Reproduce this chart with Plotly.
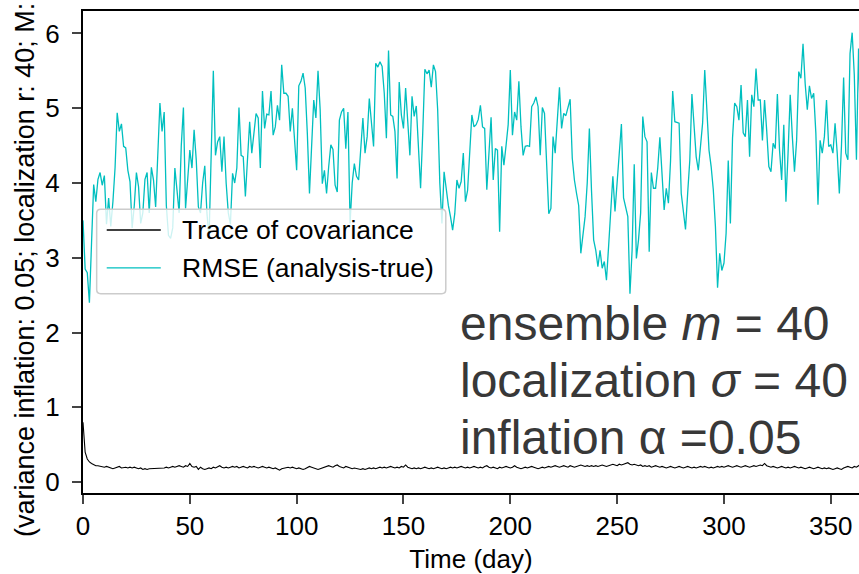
import plotly.graph_objects as go

# ---------------- data ----------------
rmse = [
    3.50, 2.85, 2.80, 2.40, 3.20, 3.98, 3.75, 4.05, 4.14, 3.97,
    4.10, 3.45, 3.80, 3.42, 3.75, 4.20, 4.94, 4.69, 4.79, 4.49,
    4.47, 4.17, 4.02, 3.40, 3.70, 4.14, 3.95, 3.46, 3.60, 4.05,
    4.14, 3.60, 4.21, 4.04, 3.68, 4.30, 5.07, 4.69, 4.95, 3.70,
    3.30, 3.26, 3.40, 4.20, 3.86, 3.60, 4.50, 5.01, 3.66, 4.00,
    4.44, 4.20, 4.71, 4.31, 3.68, 3.60, 4.00, 4.23, 3.60, 3.26,
    4.30, 5.50, 4.37, 4.55, 4.62, 4.15, 4.62, 4.00, 3.60, 3.45,
    4.13, 4.00, 4.20, 5.01, 4.37, 4.35, 3.82, 4.30, 4.82, 4.40,
    4.70, 4.93, 4.87, 4.20, 5.23, 4.73, 4.92, 4.91, 5.23, 4.64,
    4.75, 5.04, 4.84, 5.58, 5.20, 5.20, 5.16, 4.69, 5.00, 4.50,
    4.17, 5.30, 5.36, 5.47, 5.27, 4.66, 3.86, 4.49, 5.11, 4.87,
    5.50, 4.98, 3.99, 4.17, 3.86, 4.22, 4.51, 4.45, 3.97, 3.88,
    4.84, 4.95, 5.00, 4.46, 4.95, 3.46, 4.00, 4.26, 4.09, 4.04,
    4.40, 4.87, 4.40, 4.62, 5.13, 4.75, 4.49, 5.60, 5.55, 5.62,
    5.56, 5.20, 4.60, 5.77, 4.91, 4.89, 4.69, 4.06, 5.35, 4.91,
    4.73, 5.27, 4.80, 4.37, 5.16, 4.89, 5.03, 4.51, 3.93, 4.66,
    5.52, 5.46, 5.51, 5.28, 5.58, 5.49, 4.98, 4.00, 3.46, 4.15,
    3.90, 3.70, 3.55, 3.37, 3.59, 4.04, 3.93, 4.02, 4.40, 3.75,
    3.90, 4.40, 4.91, 4.75, 4.78, 4.85, 5.04, 4.75, 4.73, 3.91,
    4.40, 4.88, 4.04, 4.46, 4.44, 3.35, 4.49, 4.24, 4.50, 4.78,
    5.51, 4.64, 4.95, 4.84, 5.36, 4.75, 4.37, 4.49, 4.50, 4.49,
    5.02, 5.07, 5.15, 5.02, 4.37, 5.01, 4.93, 4.13, 3.59, 3.66,
    4.62, 4.40, 4.80, 5.28, 4.73, 4.93, 4.90, 5.03, 5.12, 4.33,
    4.04, 3.86, 3.70, 3.06, 3.30, 3.55, 4.00, 4.73, 3.90, 3.24,
    3.10, 2.88, 3.10, 2.86, 2.95, 2.70, 3.15, 3.57, 4.09, 3.62,
    4.00, 4.49, 4.79, 3.80, 3.66, 3.55, 2.52, 3.10, 4.25, 2.99,
    3.24, 3.60, 4.89, 4.62, 4.55, 3.08, 4.14, 3.93, 3.93, 4.20,
    4.61, 4.13, 3.64, 3.93, 3.73, 4.30, 5.23, 4.82, 4.81, 4.80,
    3.86, 3.60, 3.38, 3.86, 4.30, 5.19, 4.80, 4.35, 4.17, 4.50,
    4.80, 5.51, 4.98, 4.44, 4.22, 3.91, 3.42, 2.60, 3.06, 2.83,
    2.93, 3.33, 4.30, 3.46, 4.60, 5.07, 5.02, 4.84, 5.31, 4.67,
    4.62, 5.11, 4.35, 5.18, 5.02, 5.53, 5.11, 5.11, 4.57, 5.11,
    4.70, 4.22, 4.15, 4.53, 4.46, 5.19, 4.44, 4.04, 4.78, 3.75,
    4.40, 5.18, 4.62, 4.15, 4.57, 5.49, 5.40, 5.86, 5.33, 4.98,
    5.30, 5.13, 5.20, 4.67, 3.71, 4.57, 4.40, 4.62, 5.11, 4.49,
    4.51, 4.40, 4.80, 4.40, 3.86, 4.50, 5.41, 4.40, 4.31, 5.73,
    6.01, 5.44, 4.31, 5.80, 4.60,
]

trace_cov = [
    0.80, 0.40, 0.31, 0.27, 0.25, 0.23, 0.22, 0.22, 0.21, 0.21,
    0.20, 0.21, 0.20, 0.19, 0.18, 0.19, 0.20, 0.21, 0.19, 0.20,
    0.20, 0.19, 0.20, 0.19, 0.20, 0.19, 0.18, 0.19, 0.17, 0.18,
    0.17, 0.18, 0.18, 0.19, 0.18, 0.19, 0.18, 0.19, 0.19, 0.20,
    0.19, 0.20, 0.21, 0.20, 0.21, 0.22, 0.21, 0.20, 0.22, 0.21,
    0.25, 0.21, 0.20, 0.21, 0.17, 0.20, 0.18, 0.17, 0.18, 0.19,
    0.18, 0.20, 0.19, 0.20, 0.22, 0.20, 0.19, 0.20, 0.19, 0.20,
    0.21, 0.20, 0.21, 0.19, 0.20, 0.21, 0.20, 0.19, 0.21, 0.20,
    0.21, 0.20, 0.19, 0.20, 0.21, 0.20, 0.19, 0.20, 0.19, 0.18,
    0.19, 0.17, 0.16, 0.18, 0.19, 0.20, 0.20, 0.19, 0.20, 0.19,
    0.18, 0.19, 0.18, 0.17, 0.18, 0.19, 0.21, 0.20, 0.19, 0.18,
    0.17, 0.18, 0.19, 0.20, 0.21, 0.22, 0.21, 0.20, 0.22, 0.23,
    0.21, 0.20, 0.19, 0.21, 0.20, 0.19, 0.18, 0.19, 0.18, 0.17,
    0.17, 0.18, 0.17, 0.18, 0.19, 0.18, 0.19, 0.18, 0.19, 0.20,
    0.19, 0.20, 0.19, 0.20, 0.21, 0.20, 0.19, 0.20, 0.19, 0.21,
    0.20, 0.23, 0.20, 0.19, 0.18, 0.19, 0.18, 0.19, 0.18, 0.19,
    0.20, 0.19, 0.18, 0.19, 0.18, 0.19, 0.20, 0.19, 0.18, 0.19,
    0.18, 0.19, 0.20, 0.19, 0.20, 0.19, 0.20, 0.21, 0.20, 0.19,
    0.20, 0.19, 0.20, 0.21, 0.20, 0.19, 0.20, 0.19, 0.21, 0.22,
    0.20, 0.19, 0.20, 0.19, 0.18, 0.20, 0.19, 0.20, 0.21, 0.20,
    0.19, 0.20, 0.22, 0.20, 0.19, 0.18, 0.19, 0.20, 0.19, 0.20,
    0.21, 0.20, 0.19, 0.18, 0.19, 0.20, 0.19, 0.20, 0.21, 0.20,
    0.21, 0.22, 0.21, 0.20, 0.21, 0.22, 0.21, 0.20, 0.22, 0.21,
    0.20, 0.21, 0.22, 0.23, 0.22, 0.21, 0.22, 0.21, 0.22, 0.21,
    0.22, 0.21, 0.22, 0.23, 0.22, 0.21, 0.22, 0.23, 0.24, 0.23,
    0.22, 0.24, 0.23, 0.24, 0.25, 0.26, 0.24, 0.23, 0.24, 0.23,
    0.22, 0.23, 0.21, 0.22, 0.21, 0.22, 0.20, 0.21, 0.22, 0.21,
    0.20, 0.21, 0.20, 0.19, 0.20, 0.21, 0.20, 0.19, 0.20, 0.21,
    0.20, 0.19, 0.20, 0.21, 0.20, 0.19, 0.20, 0.19, 0.20, 0.21,
    0.20, 0.21, 0.20, 0.19, 0.20, 0.19, 0.20, 0.21, 0.20, 0.21,
    0.20, 0.21, 0.22, 0.21, 0.20, 0.21, 0.22, 0.21, 0.20, 0.21,
    0.22, 0.21, 0.20, 0.21, 0.22, 0.21, 0.22, 0.23, 0.22, 0.25,
    0.22, 0.21, 0.20, 0.21, 0.20, 0.19, 0.20, 0.21, 0.20, 0.19,
    0.20, 0.19, 0.20, 0.21, 0.20, 0.19, 0.20, 0.19, 0.18, 0.19,
    0.20, 0.19, 0.18, 0.19, 0.20, 0.19, 0.18, 0.19, 0.18, 0.19,
    0.18, 0.17, 0.18, 0.19, 0.18, 0.17, 0.19, 0.20, 0.21, 0.20,
    0.19, 0.21, 0.20, 0.22, 0.24,
]

days = list(range(len(rmse)))
days_cov = list(range(len(trace_cov)))

series_names = ["Trace of covariance", "RMSE (analysis-true)"]
x_ticks = [0, 50, 100, 150, 200, 250, 300, 350]
y_ticks = [0, 1, 2, 3, 4, 5, 6]
info_lines = ["ensemble <i>m</i> = 40", "localization <i>σ</i> = 40", "inflation α =0.05"]
x_title = "Time (day)"
y_title = "(variance inflation: 0.05; localization r: 40; M: 40)"

# ---------------- styling ----------------
FONT = "Arial, 'Liberation Sans', sans-serif"
CYAN = "#00bfbf"
X_RANGE = [0, 363.2]
Y_RANGE = [-0.145, 6.30]

fig = go.Figure()
fig.add_trace(go.Scatter(x=days_cov, y=trace_cov, mode="lines", name=series_names[0],
                         line=dict(color="black", width=1.1), showlegend=False))
fig.add_trace(go.Scatter(x=days, y=rmse, mode="lines", name=series_names[1],
                         line=dict(color=CYAN, width=1.3), showlegend=False))

# ----- legend box drawn as decoration (data coordinates of the linear axes) -----
lx0, lx1, ly0, ly1 = 6.4, 169.8, 2.52, 3.65
rx, ry = 1.9, 0.055
legend_path = (f"M{lx0+rx},{ly1} L{lx1-rx},{ly1} Q{lx1},{ly1} {lx1},{ly1-ry} "
               f"L{lx1},{ly0+ry} Q{lx1},{ly0} {lx1-rx},{ly0} L{lx0+rx},{ly0} "
               f"Q{lx0},{ly0} {lx0},{ly0+ry} L{lx0},{ly1-ry} Q{lx0},{ly1} {lx0+rx},{ly1} Z")
shapes = [dict(type="path", path=legend_path, xref="x", yref="y", layer="above",
               fillcolor="rgba(255,255,255,0.8)", line=dict(color="#cccccc", width=1.5))]
entry_y = [3.372, 2.864]
entry_col = ["black", CYAN]
annotations = []
for name, yy, col in zip(series_names, entry_y, entry_col):
    shapes.append(dict(type="line", xref="x", yref="y", x0=11.1, x1=36.4, y0=yy, y1=yy,
                       layer="above", line=dict(color=col, width=1.3)))
    annotations.append(dict(x=45.6, y=yy, xref="x", yref="y", text=name, showarrow=False,
                            xanchor="left", yanchor="middle",
                            font=dict(family=FONT, size=26.5, color="black")))

for txt, yy in zip(info_lines, [2.12, 1.36, 0.60]):
    annotations.append(dict(x=175.6, y=yy, xref="x", yref="y", text=txt, showarrow=False,
                            xanchor="left", yanchor="middle",
                            font=dict(family=FONT, size=48, color="#383838")))

# y-axis title (rotated), placed left of the tick labels
annotations.append(dict(x=0, y=0.5, xref="paper", yref="paper", text=y_title, showarrow=False,
                        textangle=-90, xanchor="center", yanchor="middle", xshift=-58, yshift=5,
                        font=dict(family=FONT, size=27, color="black")))

fig.update_layout(
    width=859, height=574,
    margin=dict(l=83, r=0, t=11, b=81),
    paper_bgcolor="white", plot_bgcolor="white",
    font=dict(family=FONT, size=25, color="black"),
    shapes=shapes, annotations=annotations, showlegend=False,
)
fig.update_xaxes(range=X_RANGE, tickvals=x_ticks, ticks="outside", ticklen=9, tickwidth=2,
                 showline=True, linecolor="black", linewidth=2, mirror=True,
                 showgrid=False, zeroline=False, tickfont=dict(size=26), automargin=False,
                 title=dict(text=x_title, font=dict(size=26), standoff=10))
fig.update_yaxes(range=Y_RANGE, tickvals=y_ticks, ticks="outside", ticklen=9, tickwidth=2,
                 showline=True, linecolor="black", linewidth=2, automargin=False,
                 showgrid=False, zeroline=False, tickfont=dict(size=26), ticklabelstandoff=7)

fig.write_html("out.html", config={"displayModeBar": False},
               post_script="document.body.style.margin='0';document.body.style.overflow='hidden';")
